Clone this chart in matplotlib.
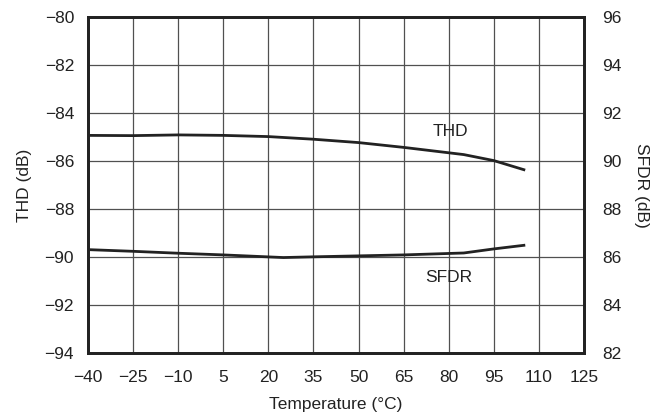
import matplotlib
matplotlib.use("Agg")
import matplotlib.pyplot as plt

plt.rcParams['font.family'] = ['Liberation Sans', 'DejaVu Sans']

temp = [-40, -25, -10, 5, 20, 35, 50, 65, 85, 95, 105]
thd = [-84.92, -84.93, -84.9, -84.92, -84.97, -85.08, -85.22, -85.42, -85.72, -85.97, -86.35]
temp_sfdr = [-40, -25, -10, 5, 25, 35, 50, 65, 85, 95, 105]
sfdr = [86.32, 86.25, 86.17, 86.1, 85.99, 86.02, 86.06, 86.1, 86.18, 86.35, 86.5]

xticks = [-40, -25, -10, 5, 20, 35, 50, 65, 80, 95, 110, 125]
thd_ticks = [-94, -92, -90, -88, -86, -84, -82, -80]
sfdr_ticks = [82, 84, 86, 88, 90, 92, 94, 96]

fs = 12.5

fig = plt.figure(figsize=(6.65, 4.16), dpi=100)
ax = fig.add_axes([0.1323, 0.1507, 0.7459, 0.8077])
ax2 = ax.twinx()

ax.set_xlim(-40, 125)
ax.set_ylim(-94, -80)
ax2.set_ylim(82, 96)

ax.set_xticks(xticks)
ax.set_xticklabels([str(t).replace('-', '\u2212') for t in xticks])
ax.set_yticks(thd_ticks)
ax.set_yticklabels([str(t).replace('-', '\u2212') for t in thd_ticks])
ax2.set_yticks(sfdr_ticks)

ax.grid(True, color='#505050', linewidth=0.9)
ax.set_axisbelow(True)

ax.plot(temp, thd, color='#222222', linewidth=2.0, zorder=3)
ax2.plot(temp_sfdr, sfdr, color='#222222', linewidth=2.0, zorder=3)

ax.text(80.5, -84.75, 'THD', fontsize=fs, color='#222222', ha='center', va='center')
ax2.text(80, 85.17, 'SFDR', fontsize=fs, color='#222222', ha='center', va='center')

for a in (ax, ax2):
    for s in a.spines.values():
        s.set_linewidth(2.0)
        s.set_color('#222222')

ax.tick_params(axis='x', length=0, labelsize=fs, colors='#222222', pad=12)
ax.tick_params(axis='y', length=0, labelsize=fs, colors='#222222', pad=10)
ax2.tick_params(axis='y', length=0, labelsize=fs, colors='#222222', pad=13)

ax.set_xlabel('Temperature (\u00b0C)', fontsize=fs, color='#222222', labelpad=9)
ax.set_ylabel('THD (dB)', fontsize=fs, color='#222222', labelpad=9)
ax2.set_ylabel('SFDR (dB)', fontsize=fs, color='#222222', rotation=270, labelpad=20)

fig.savefig('out.png', dpi=100)
